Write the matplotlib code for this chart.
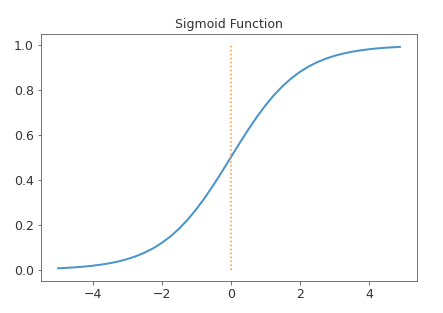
import matplotlib
matplotlib.use('Agg')
import matplotlib.pyplot as plt

# values
x = [-5.0, -4.75, -4.5, -4.25, -4.0, -3.75, -3.5, -3.25, -3.0, -2.75,
     -2.5, -2.25, -2.0, -1.75, -1.5, -1.25, -1.0, -0.75, -0.5, -0.25,
     0.0, 0.25, 0.5, 0.75, 1.0, 1.25, 1.5, 1.75, 2.0, 2.25,
     2.5, 2.75, 3.0, 3.25, 3.5, 3.75, 4.0, 4.25, 4.5, 4.75, 4.9]
y = [0.0067, 0.0086, 0.0110, 0.0140, 0.0180, 0.0230, 0.0293, 0.0373, 0.0474, 0.0601,
     0.0759, 0.0953, 0.1192, 0.1480, 0.1824, 0.2227, 0.2689, 0.3208, 0.3775, 0.4378,
     0.5000, 0.5622, 0.6225, 0.6792, 0.7311, 0.7773, 0.8176, 0.8520, 0.8808, 0.9047,
     0.9241, 0.9399, 0.9526, 0.9627, 0.9707, 0.9770, 0.9820, 0.9860, 0.9890, 0.9914, 0.9926]
vline_x = [0, 0]
vline_y = [0, 1]

fig = plt.figure(figsize=(443 / 72, 313 / 72), dpi=72)
ax = fig.add_axes([41 / 443, 32 / 313, 376 / 443, 247 / 313])
ax.plot(x, y, color='#4a94cc', linewidth=2)
ax.plot(vline_x, vline_y, ':', color='#ff8c2a', linewidth=1.5)
ax.set_title('Sigmoid Function', fontsize=12.5, color='#333333')
ax.tick_params(labelsize=12.5, labelcolor='#333333', color='#555555')
for s in ax.spines.values():
    s.set_color('#555555')
fig.savefig('out.png', dpi=72)
plt.close()
